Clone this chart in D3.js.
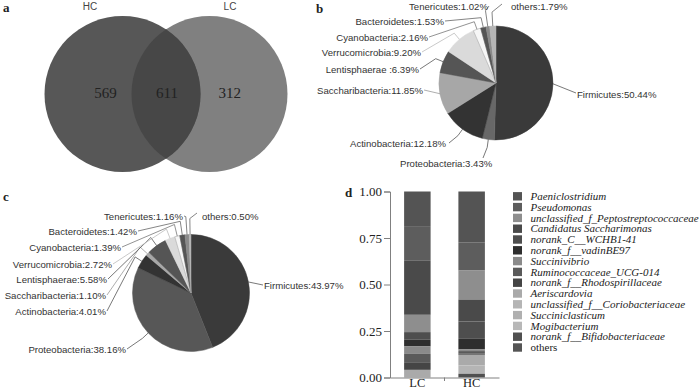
<!DOCTYPE html>
<html><head><meta charset="utf-8">
<script src="https://cdn.jsdelivr.net/npm/d3@7"></script>
<style>body{margin:0;background:#fff}svg{display:block}</style>
</head><body>
<script>
// ---------------- DATA ----------------
const vennSets = ["HC", "LC"];
const vennCounts = [569, 611, 312]; // HC only, shared, LC only

const phyla = ["Firmicutes","Proteobacteria","Actinobacteria","Saccharibacteria","Lentisphaerae","Verrucomicrobia","Cyanobacteria","Bacteroidetes","Tenericutes","others"];
const pieBLabels = ["Firmicutes:50.44%","Proteobacteria:3.43%","Actinobacteria:12.18%","Saccharibacteria:11.85%","Lentisphaerae :6.39%","Verrucomicrobia:9.20%","Cyanobacteria:2.16%","Bacteroidetes:1.53%","Tenericutes:1.02%","others:1.79%"];
const pieBValues = [50.44, 3.43, 12.18, 11.85, 6.39, 9.20, 2.16, 1.53, 1.02, 1.79];
const pieCLabels = ["Firmicutes:43.97%","Proteobacteria:38.16%","Actinobacteria:4.01%","Saccharibacteria:1.10%","Lentisphaerae:5.58%","Verrucomicrobia:2.72%","Cyanobacteria:1.39%","Bacteroidetes:1.42%","Tenericutes:1.16%","others:0.50%"];
const pieCValues = [43.97, 38.16, 4.01, 1.10, 5.58, 2.72, 1.39, 1.42, 1.16, 0.50];

const genera = ["Paeniclostridium","Pseudomonas","unclassified_f_Peptostreptococcaceae","Candidatus Saccharimonas","norank_C__WCHB1-41","norank_f__vadinBE97","Succinivibrio","Ruminococcaceae_UCG-014","norank_f__Rhodospirillaceae","Aeriscardovia","unclassified_f__Coriobacteriaceae","Succiniclasticum","Mogibacterium","norank_f__Bifidobacteriaceae","others"];
const groups = ["LC","HC"];
// stacking order from top of bar, per group
const lcStack = ["Paeniclostridium","Pseudomonas","Candidatus Saccharimonas","unclassified_f_Peptostreptococcaceae","norank_C__WCHB1-41","norank_f__vadinBE97","Succinivibrio","Ruminococcaceae_UCG-014","norank_f__Rhodospirillaceae","Aeriscardovia"];
const lcValues = [0.19, 0.18, 0.293, 0.093, 0.041, 0.036, 0.040, 0.045, 0.041, 0.041];
const hcStack = ["Paeniclostridium","Pseudomonas","unclassified_f_Peptostreptococcaceae","Candidatus Saccharimonas","norank_C__WCHB1-41","norank_f__vadinBE97","Succinivibrio","Ruminococcaceae_UCG-014","norank_f__Rhodospirillaceae","Aeriscardovia","unclassified_f__Coriobacteriaceae","norank_f__Bifidobacteriaceae"];
const hcValues = [0.273, 0.152, 0.156, 0.118, 0.093, 0.057, 0.009, 0.014, 0.006, 0.057, 0.045, 0.020];
const yTicks = [0, 0.25, 0.5, 0.75, 1];

// ---------------- STYLE / LAYOUT ----------------
const phylumColorsB = ["#3a3a3a","#686868","#333333","#a7a7a7","#555555","#dadada","#f6f6f6","#555555","#8a8a8a","#b5b5b5"];
const phylumColorsC = ["#3a3a3a","#575757","#333333","#a7a7a7","#555555","#dadada","#f6f6f6","#555555","#8a8a8a","#b5b5b5"];
const lineColors   = ["#555","#555","#555","#999","#555","#bbb","#777","#666","#666","#666"];
const genusColors = ["#545454","#5d5d5d","#8e8e8e","#4a4a4a","#4e4e4e","#2e2e2e","#8a8a8a","#5a5a5a","#454545","#aaaaaa","#b5b5b5","#b0b0b0","#b8b8b8","#505050","#555555"];

// label layout: [textX, baselineY, anchor, connX, connY, elbowExtra]
const layoutB = [
  [577, 98, "start", 576, 93, 0],
  [400, 167, "start", 483, 158, 8],
  [350, 147, "start", 449, 143, 8],
  [423, 93.5, "end", 424, 90, 0],
  [419, 73, "end", 420, 69, 8],
  [421, 56, "end", 422, 52, 8],
  [428, 40.5, "end", 429, 37, 8],
  [444, 25, "end", 445, 21, 10],
  [488, 9.5, "end", 489, 6, 16],
  [511, 9.5, "start", 502, 4, 14]
];
const layoutC = [
  [264, 288.5, "start", 263, 285, 0],
  [126, 353, "end", 127, 349, 8],
  [106, 315, "end", 107, 311, 8],
  [106, 299, "end", 107, 295, 10],
  [107, 283, "end", 108, 279, 10],
  [112, 268, "end", 113, 264, 10],
  [121, 251, "end", 122, 247, 12],
  [137, 235, "end", 138, 231, 14],
  [183, 219.5, "end", 184, 216, 18],
  [202, 219.5, "start", 197, 213, 16]
];

const W = 700, H = 391;
const svg = d3.select("body").append("svg").attr("width", W).attr("height", H);
const serif = "'Liberation Serif','Times New Roman',serif";
const sans = "'Liberation Sans',Arial,sans-serif";

function panelLabel(t, x, y) {
  svg.append("text").attr("x", x).attr("y", y).text(t)
    .attr("font-family", serif).attr("font-size", 13).attr("font-weight", "bold").attr("fill", "#222");
}
panelLabel("a", 3, 12);
panelLabel("b", 316, 13);
panelLabel("c", 3, 201);
panelLabel("d", 345, 197);

// ---------------- Venn (a) ----------------
const vr = 78, vcy = 94, hcx = 122.5, lcx = 209.5;
const defs = svg.append("defs");
defs.append("clipPath").attr("id", "clipHC").append("circle").attr("cx", hcx).attr("cy", vcy).attr("r", vr);
svg.append("circle").attr("cx", lcx).attr("cy", vcy).attr("r", vr).attr("fill", "#808080");
svg.append("circle").attr("cx", hcx).attr("cy", vcy).attr("r", vr).attr("fill", "#575757");
svg.append("circle").attr("cx", lcx).attr("cy", vcy).attr("r", vr).attr("fill", "#474747").attr("clip-path", "url(#clipHC)");
svg.selectAll("text.vset").data(vennSets).join("text").attr("class", "vset")
  .attr("x", (d, i) => i === 0 ? 90 : 230).attr("y", 10).attr("text-anchor", "middle")
  .attr("font-family", sans).attr("font-size", 10).attr("fill", "#444").text(d => d);
svg.selectAll("text.vnum").data(vennCounts).join("text").attr("class", "vnum")
  .attr("x", (d, i) => [105.5, 167, 229.7][i]).attr("y", 97.5).attr("text-anchor", "middle")
  .attr("font-family", serif).attr("font-size", 15).attr("fill", "#222").text(d => d);

// ---------------- Pies (b, c) ----------------
function drawPie(values, labels, colors, layout, cx, cy, r) {
  const pie = d3.pie().sort(null).value(d => d)(values);
  const arc = d3.arc().innerRadius(0).outerRadius(r);
  const g = svg.append("g").attr("transform", `translate(${cx},${cy})`);
  g.selectAll("path").data(pie).join("path").attr("d", arc)
    .attr("fill", (d, i) => colors[i])
    .attr("stroke", (d, i) => colors[i] === "#f6f6f6" ? "#999" : colors[i])
    .attr("stroke-width", 0.5);
  pie.forEach((d, i) => {
    const a = (d.startAngle + d.endAngle) / 2;
    const L = layout[i];
    const p0 = [cx + r * Math.sin(a), cy - r * Math.cos(a)];
    const pts = [[L[3], L[4]]];
    if (L[5] > 0) pts.push([cx + (r + L[5]) * Math.sin(a), cy - (r + L[5]) * Math.cos(a)]);
    pts.push(p0);
    svg.append("path").attr("d", d3.line()(pts)).attr("fill", "none")
      .attr("stroke", lineColors[i]).attr("stroke-width", 0.8);
    svg.append("text").attr("x", L[0]).attr("y", L[1]).attr("text-anchor", L[2])
      .attr("font-family", sans).attr("font-size", 9.6).attr("fill", "#333").text(labels[i]);
  });
}
drawPie(pieBValues, pieBLabels, phylumColorsB, layoutB, 496, 83, 57);
drawPie(pieCValues, pieCLabels, phylumColorsC, layoutC, 191, 293, 58.5);

// ---------------- Stacked bars (d) ----------------
const y = d3.scaleLinear().domain([0, 1]).range([377.5, 191.5]);
const x = d3.scaleBand().domain(groups).range([390, 499]).paddingInner(0.512).paddingOuter(0.26);
const colorOf = d3.scaleOrdinal().domain(genera).range(genusColors);
function drawBar(group, names, vals) {
  let top = 1;
  names.forEach((n, i) => {
    const y1 = top, y0 = top - vals[i];
    svg.append("rect").attr("x", x(group)).attr("width", x.bandwidth())
      .attr("y", y(y1)).attr("height", Math.max(0, y(y0) - y(y1)))
      .attr("fill", colorOf(n));
    top = y0;
  });
}
drawBar("LC", lcStack, lcValues);
drawBar("HC", hcStack, hcValues);

const yAxis = svg.append("g").attr("transform", "translate(390,0)")
  .call(d3.axisLeft(y).tickValues(yTicks).tickFormat(d3.format(".2f")).tickSize(6).tickPadding(2));
yAxis.selectAll("text").attr("font-family", serif).attr("font-size", 13).attr("fill", "#222");
yAxis.selectAll("line,path").attr("stroke", "#808080");

const xAxis = svg.append("g").attr("transform", "translate(0,377.5)")
  .call(d3.axisBottom(x).tickSize(0).tickPadding(1).tickSizeOuter(0));
xAxis.selectAll("text").attr("font-family", serif).attr("font-size", 12.5).attr("fill", "#222").attr("dy", "0.68em");
xAxis.select("path").attr("stroke", "#808080");
const midX = (x("LC") + x("HC") + x.bandwidth()) / 2;
svg.append("line").attr("x1", midX).attr("x2", midX).attr("y1", 377.5).attr("y2", 381).attr("stroke", "#808080");

// legend
const leg = svg.append("g");
genera.forEach((n, i) => {
  const cy = 196.3 + i * 10.8;
  leg.append("rect").attr("x", 513).attr("y", cy - 4.2).attr("width", 9).attr("height", 8.4).attr("fill", colorOf(n));
  leg.append("text").attr("x", 530.5).attr("y", cy + 3.6).text(n)
    .attr("font-family", serif).attr("font-size", 11)
    .attr("font-style", n === "others" ? "normal" : "italic").attr("fill", "#222");
});
</script>
</body></html>
